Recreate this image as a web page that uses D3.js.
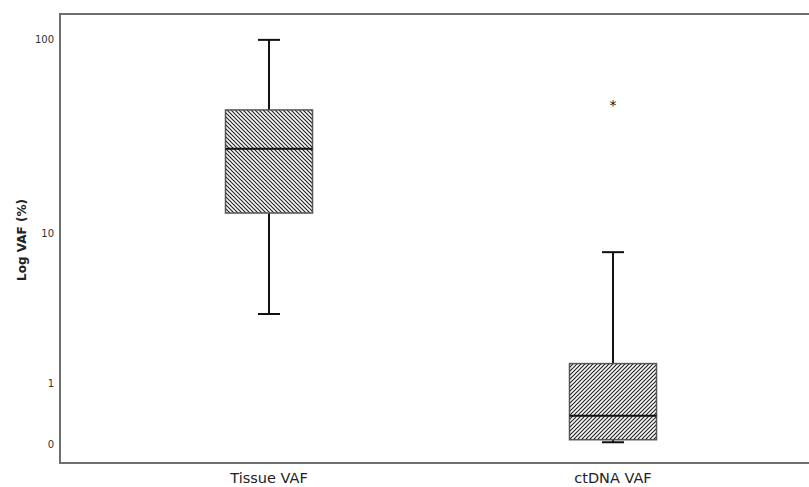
<!DOCTYPE html>
<html>
<head>
<meta charset="utf-8">
<script src="https://cdn.jsdelivr.net/npm/d3@7"></script>
<style>
  body { margin: 0; background: #fff; }
  text { font-family: "DejaVu Sans", sans-serif; }
</style>
</head>
<body>
<div id="chart"></div>
<script>
// data (VAF, %)
const categories = ["Tissue VAF", "ctDNA VAF"];
const whiskerLow = [3.4, 0.02];
const q1 = [12.9, 0.05];
const median = [27.9, 0.38];
const q3 = [44, 1.5];
const whiskerHigh = [99, 7.9];
const outliers = [[], [47.8]];
const yTicks = [0, 1, 10, 100];

const width = 809, height = 487;
const plot = { left: 60, top: 14, right: 812, bottom: 463 };
const boxWidth = 87;
const capWidth = 22;

const svg = d3.select("#chart").append("svg")
  .attr("width", width)
  .attr("height", height);

// log(x+1) style axis
const y = d3.scaleSymlog().constant(1)
  .domain([0, 100])
  .range([444, 39]);

const x = d3.scalePoint()
  .domain(categories)
  .range([269, 613]);

const defs = svg.append("defs");
function hatch(id, dir) {
  const p = defs.append("pattern")
    .attr("id", id)
    .attr("patternUnits", "userSpaceOnUse")
    .attr("width", 4)
    .attr("height", 4);
  p.append("rect").attr("width", 4).attr("height", 4).attr("fill", "#fff");
  const d = dir > 0
    ? "M-1,1 l2,-2 M0,4 l4,-4 M3,5 l2,-2"
    : "M-1,3 l2,2 M0,0 l4,4 M3,-1 l2,2";
  p.append("path").attr("d", d)
    .attr("stroke", "#222")
    .attr("stroke-width", 1.2);
}
hatch("hatch-back", -1);
hatch("hatch-fwd", 1);

const data = categories.map((c, i) => ({
  cat: c,
  lo: whiskerLow[i], q1: q1[i], med: median[i], q3: q3[i], hi: whiskerHigh[i],
  out: outliers[i],
  fill: i === 0 ? "url(#hatch-back)" : "url(#hatch-fwd)",
}));

// frame
svg.append("rect")
  .attr("x", plot.left)
  .attr("y", plot.top)
  .attr("width", plot.right - plot.left)
  .attr("height", plot.bottom - plot.top)
  .attr("fill", "none")
  .attr("stroke", "#6e6e6e")
  .attr("stroke-width", 2);

const g = svg.selectAll(".box")
  .data(data)
  .join("g")
  .attr("class", "box")
  .attr("transform", (d) => `translate(${x(d.cat)},0)`);

// whisker stems
g.append("line")
  .attr("y1", (d) => y(d.hi))
  .attr("y2", (d) => y(d.lo))
  .attr("stroke", "#111")
  .attr("stroke-width", 2);

g.selectAll(".cap")
  .data((d) => [d.lo, d.hi])
  .join("line")
  .attr("class", "cap")
  .attr("x1", -capWidth / 2)
  .attr("x2", capWidth / 2)
  .attr("y1", (d) => y(d))
  .attr("y2", (d) => y(d))
  .attr("stroke", "#111")
  .attr("stroke-width", 2);

g.append("rect")
  .attr("x", -boxWidth / 2)
  .attr("width", boxWidth)
  .attr("y", (d) => y(d.q3))
  .attr("height", (d) => y(d.q1) - y(d.q3))
  .attr("fill", (d) => d.fill)
  .attr("stroke", "#555")
  .attr("stroke-width", 1.5);

g.append("line")
  .attr("x1", -boxWidth / 2)
  .attr("x2", boxWidth / 2)
  .attr("y1", (d) => y(d.med))
  .attr("y2", (d) => y(d.med))
  .attr("stroke", "#111")
  .attr("stroke-width", 2);

g.selectAll(".outlier")
  .data((d) => d.out)
  .join("text")
  .attr("class", "outlier")
  .attr("y", (d) => y(d) + 7)
  .attr("text-anchor", "middle")
  .attr("font-size", 14)
  .attr("fill", "#111")
  .text("*");

// y tick labels
svg.append("g")
  .selectAll("text")
  .data(yTicks)
  .join("text")
  .attr("x", 54)
  .attr("y", (d) => y(d))
  .attr("dy", "0.35em")
  .attr("text-anchor", "end")
  .attr("font-size", 10)
  .attr("fill", "#333")
  .text((d) => d);

svg.append("text")
  .attr("transform", "translate(26,240) rotate(-90)")
  .attr("text-anchor", "middle")
  .attr("font-size", 12)
  .attr("font-weight", "bold")
  .attr("fill", "#222")
  .text("Log VAF (%)");

// category labels
svg.append("g")
  .selectAll("text")
  .data(categories)
  .join("text")
  .attr("x", (d) => x(d))
  .attr("y", 478)
  .attr("dy", "0.35em")
  .attr("text-anchor", "middle")
  .attr("font-size", 14.5)
  .attr("fill", "#222")
  .text((d) => d);
</script>
</body>
</html>
